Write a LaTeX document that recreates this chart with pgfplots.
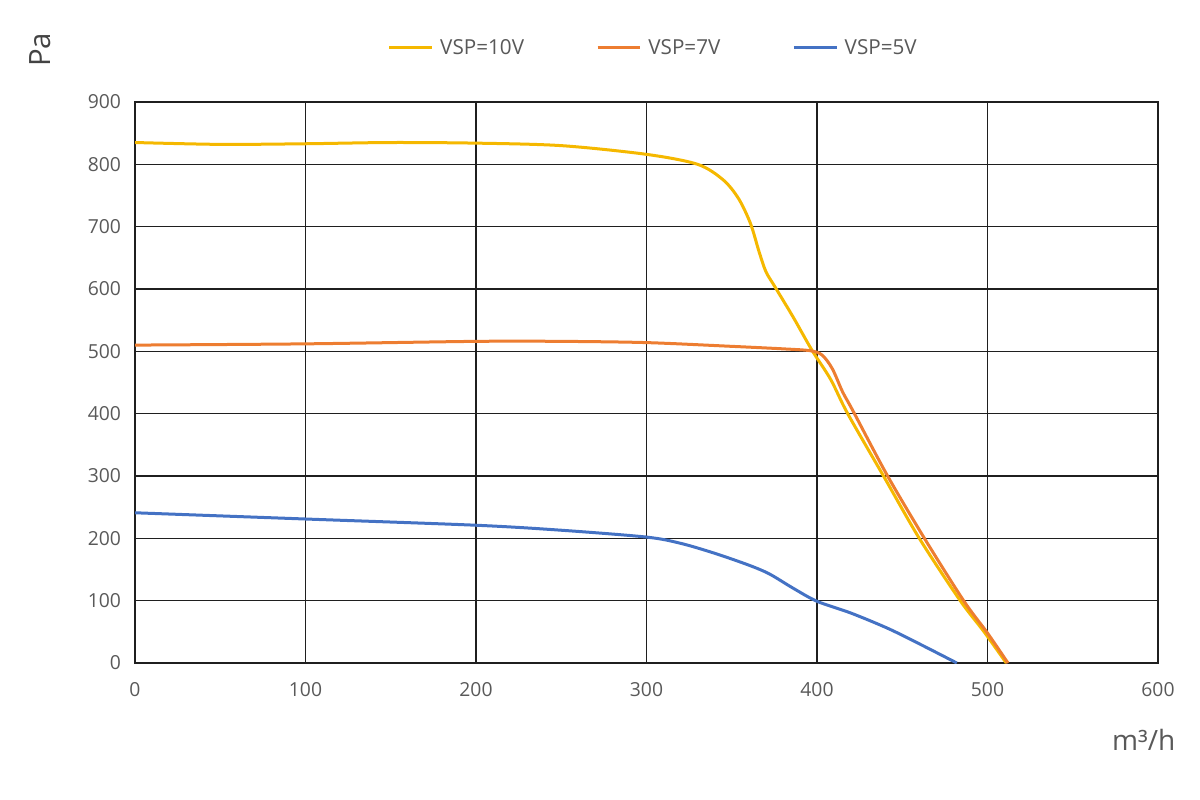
\documentclass[border=0pt]{standalone}
\usepackage{pgfplots}
\pgfplotsset{compat=1.18}
\usepackage{fontspec}
\setmainfont{Open Sans}
\definecolor{cyel}{HTML}{F5B800}
\definecolor{corg}{HTML}{ED7D31}
\definecolor{cblu}{HTML}{4472C4}
\definecolor{ctxt}{HTML}{595959}
\begin{document}
\begin{tikzpicture}
\path[use as bounding box] (0,0) rectangle (900pt,600pt);
\begin{axis}[
    at={(101.25pt,102.75pt)}, anchor=south west,
    scale only axis, width=767.25pt, height=420.75pt,
    xmin=0, xmax=600, ymin=0, ymax=900,
    xtick={0,100,...,600}, ytick={0,100,...,900},
    major tick length=0pt,
    grid=major,
    major grid style={line width=1.2pt, color=black!88},
    axis line style={line width=1.2pt, color=black!88},
    /pgf/number format/assume math mode=true,
    tick label style={font=\fontsize{14.5}{16}\selectfont, text=ctxt},
    yticklabel style={xshift=-7pt},
    xticklabel style={yshift=-11pt},
    ylabel={Pa},
    ylabel style={at={(axis description cs:-0.093,1.093)}, anchor=center, rotate=0,
        font=\fontsize{22}{24}\selectfont, text=ctxt!75!black},
    xlabel={m³/h},
    xlabel style={at={(axis description cs:0.986,-0.137)}, anchor=center,
        font=\fontsize{21}{23}\selectfont, text=ctxt},
    legend columns=3,
    legend style={at={(axis description cs:0.507,1)}, anchor=center, yshift=40.5pt,
        draw=none, font=\fontsize{15.5}{17}\selectfont, text=ctxt,
        /tikz/every odd column/.append style={column sep=3pt},
        /tikz/every even column/.append style={column sep=52pt}},
    legend image code/.code={\draw[#1, line width=2.25pt] (0pt,0pt) -- (32pt,0pt);},
    every axis plot/.append style={line width=2.25pt, smooth},
]
\addplot[color=cyel] coordinates {
(0,835)(50,832)(100,833)(150,835)(200,834)(250,830)(300,816)(330,800)(345,775)
(354,745)(361,705)(366,660)(370,628)(375,605)(386,555)(397,502)(408,455)(418,400)
(439,300)(460,200)(484,100)(498,50)(511,0)
};
\addlegendentry{VSP=10V}
\addplot[color=corg] coordinates {
(0,510)(100,512)(200,516)(250,516)(300,514)(350,508)(380,504)(396,501)(403,494)
(409,472)(415,435)(421,405)(441,302)(463,200)(486,100)(500,48)(512,0)
};
\addlegendentry{VSP=7V}
\addplot[color=cblu] coordinates {
(0,241)(100,231)(200,221)(250,213)(300,202)(320,192)(340,176)(360,157)(372,143)
(386,120)(400,99)(420,80)(442,55)(462,28)(482,0)
};
\addlegendentry{VSP=5V}
\end{axis}
\end{tikzpicture}
\end{document}
